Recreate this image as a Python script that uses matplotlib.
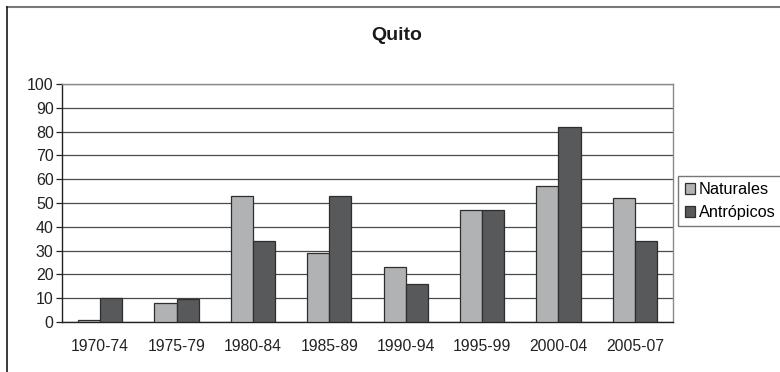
import matplotlib
matplotlib.use("Agg")
import matplotlib.pyplot as plt
import numpy as np
from matplotlib.lines import Line2D

# Eventos por quinquenio en Quito
periodos = ["1970-74", "1975-79", "1980-84", "1985-89", "1990-94", "1995-99", "2000-04", "2005-07"]
naturales = [1, 8, 53, 29, 23, 47, 57, 52]
antropicos = [10, 9.5, 34, 53, 16, 47, 82, 34]
yticks = list(range(0, 101, 10))

plt.rcParams['font.family'] = ['Liberation Sans', 'DejaVu Sans']

W, H = 780, 372
fig = plt.figure(figsize=(W / 100, H / 100), dpi=100)
ax = fig.add_axes([62 / W, 1 - 322 / H, (673 - 62) / W, (322 - 84) / H])

x = np.arange(len(periodos))
ancho = 0.29
ax.bar(x - ancho / 2, naturales, ancho, color='#b1b2b4', edgecolor='#2e2e2e',
       linewidth=0.9, label='Naturales', zorder=3)
ax.bar(x + ancho / 2, antropicos, ancho, color='#58595b', edgecolor='#2e2e2e',
       linewidth=0.9, label='Antrópicos', zorder=3)

ax.set_xlim(-0.5, len(periodos) - 0.5)
ax.set_ylim(0, 100)
ax.set_yticks(yticks)
ax.set_xticks(x)
ax.set_xticklabels(periodos)
ax.tick_params(axis='x', length=0, pad=12, labelsize=11.3, colors='#222222')
ax.tick_params(axis='y', length=4, width=0.9, pad=2, labelsize=11.5, colors='#222222')

ax.yaxis.grid(True, color='#4a4a4a', linewidth=0.9, zorder=0)
ax.set_axisbelow(True)
ax.spines['left'].set_color('#222222')
ax.spines['bottom'].set_color('#222222')
ax.spines['top'].set_color('#8a8a8a')
ax.spines['right'].set_color('#8a8a8a')
for s in ax.spines.values():
    s.set_linewidth(1.0)

fig.text(397 / W, 1 - 36 / H, 'Quito', ha='center', va='center',
         fontsize=14, fontweight='bold', color='#1a1a1a')

leg = fig.legend(loc='upper left', bbox_to_anchor=(678 / W, 1 - 176 / H),
                 fontsize=11.7, frameon=True, fancybox=False,
                 handlelength=0.65, handleheight=0.65, handletextpad=0.25,
                 borderpad=0.4, labelspacing=0.45, borderaxespad=0)
leg.get_frame().set_edgecolor('#555555')
leg.get_frame().set_linewidth(1.0)

# marco exterior del gráfico
fig.add_artist(Line2D([7 / W, 1], [1 - 6.5 / H, 1 - 6.5 / H], color='#7a7a7a',
                      linewidth=1.5, transform=fig.transFigure))
fig.add_artist(Line2D([7 / W, 7 / W], [0, 1 - 6.5 / H], color='#1a1a1a',
                      linewidth=1.2, transform=fig.transFigure))

fig.savefig('out.png', dpi=100)
